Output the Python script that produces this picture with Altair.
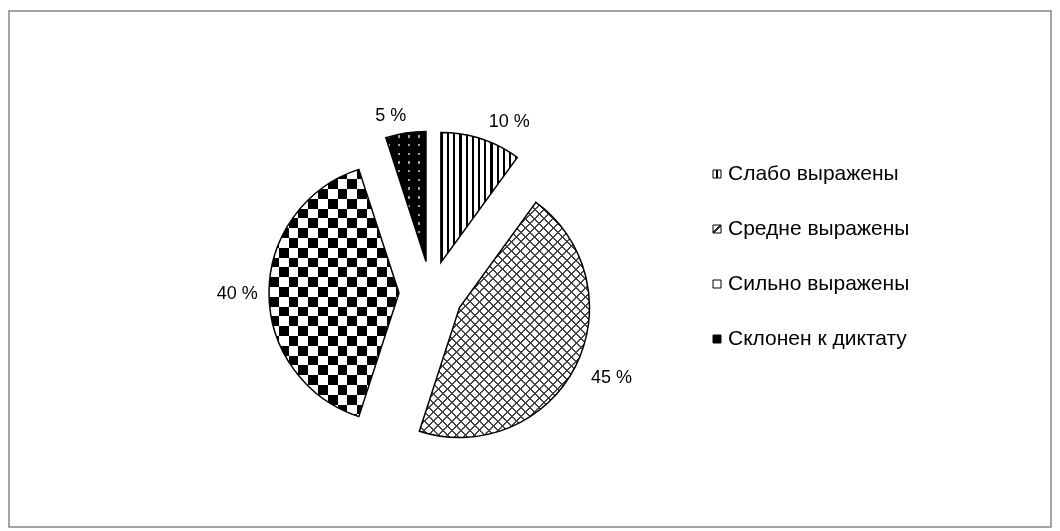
import altair as alt
import pandas as pd

# ---- data ----
categories = ["Слабо выражены", "Средне выражены", "Сильно выражены", "Склонен к диктату"]
values = [10, 45, 40, 5]
labels = ["10 %", "45 %", "40 %", "5 %"]

df = pd.DataFrame({"category": categories, "value": values, "label": labels,
                   "order": list(range(len(categories)))})

# ---- layout constants ----
CX, CY, R, D = 431, 293, 130, 32      # pie centre, radius, explode distance
RL = 176                              # label anchor radius
LX_SQ, LX_TXT, LY0, LDY = 717, 728, 174, 55
FONT = "Liberation Sans"
TRANSP = "rgba(0,0,0,0)"


def stripes(period, width, line, bg, phase=0.0):
    stops = [{"offset": 0.0, "color": bg}]
    t = phase
    while t < 1.0:
        a = max(t, 0.0)
        b = min(t + width, 1.0)
        if b > a:
            stops += [{"offset": round(a, 5), "color": bg},
                      {"offset": round(a, 5), "color": line},
                      {"offset": round(b, 5), "color": line},
                      {"offset": round(b, 5), "color": bg}]
        t += period
    stops.append({"offset": 1.0, "color": bg})
    return stops


def grad(stops, x1=0, y1=0, x2=1, y2=0):
    return {"gradient": "linear", "x1": x1, "y1": y1, "x2": x2, "y2": y2, "stops": stops}


base = (
    alt.Chart(df)
    .transform_window(cum="sum(value)", sort=[alt.SortField("order")], frame=[None, 0])
    .transform_joinaggregate(total="sum(value)")
    .transform_calculate(a1="datum.cum / datum.total * 2 * PI",
                         a0="(datum.cum - datum.value) / datum.total * 2 * PI")
    .transform_calculate(mid="(datum.a0 + datum.a1) / 2")
    .transform_calculate(
        cx=f"{CX} + {D} * sin(datum.mid)",
        cy=f"{CY} - {D} * cos(datum.mid)",
        sx="sin(datum.mid) > 0.1 ? 1 : (sin(datum.mid) < -0.1 ? -1 : 0)",
        sy="cos(datum.mid) > 0.1 ? 1 : (cos(datum.mid) < -0.1 ? -1 : 0)",
    )
    .transform_calculate(
        lx=f"{CX} + 3 + {RL} * sin(datum.mid) + datum.sx * length(datum.label) * 5.2",
        ly=f"{CY} + 1 - {RL} * cos(datum.mid) - datum.sy * 4.5",
        ky=f"{LY0} + datum.order * {LDY}",
    )
)


def arc(i, **kw):
    return base.transform_filter(f"datum.order == {i}").mark_arc(radius=R, **kw).encode(
        x=alt.X("cx:Q", scale=None, axis=None),
        y=alt.Y("cy:Q", scale=None, axis=None),
        theta=alt.Theta("a0:Q", scale=None, stack=None),
        theta2="a1:Q",
    )


layers = []

# 10 % : vertical stripes (bbox ~76 x 130)
layers.append(arc(0, fill=grad(stripes(6.2 / 76.4, 2.2 / 76.4, "#000000", "#ffffff", 0.0))))

# 45 % : cross-hatch (bbox ~170 x 235)
k = 235.2 / 170.2
tscale = 170.2 * (1 + k * k)
layers.append(arc(1, fill="#ffffff"))
layers.append(arc(1, fill=grad(stripes(9.2 / tscale, 2.0 / tscale, "#444444", TRANSP, 0.004),
                               0, 0, 1, k)))
layers.append(arc(1, fill=grad(stripes(9.2 / tscale, 2.0 / tscale, "#444444", TRANSP, 0.004),
                               0, 1, 1, 1 - k)))

# 40 % : checkerboard (bbox ~130 x 247)
cell = 9.8
layers.append(arc(2, fill=grad(stripes(2 * cell / 130, cell / 130, "#000000", "#ffffff", 0.0))))
layers.append(arc(2, fill=grad(stripes(2 * cell / 247.2, cell / 247.2, "#ffffff", TRANSP, 0.0),
                               0, 0, 0, 1), blend="difference"))

# 5 % : black with light dots (bbox ~40 x 130)
layers.append(arc(3, fill="#000000"))
layers.append(arc(3, fill=grad(stripes(10.0 / 40.2, 2.4 / 40.2, "#a0a0a0", TRANSP, 0.05))))
layers.append(arc(3, fill=grad(stripes(8.7 / 130, 2.4 / 130, TRANSP, "#000000", 0.03), 0, 0, 0, 1)))

# outlines
for i in range(4):
    layers.append(arc(i, fillOpacity=0, stroke="#000000", strokeWidth=1.5))

# percentage labels
layers.append(
    base.mark_text(font=FONT, fontSize=18, color="#000000", align="center", baseline="middle")
    .encode(x=alt.X("lx:Q", scale=None, axis=None), y=alt.Y("ly:Q", scale=None, axis=None),
            text="label:N")
)

# legend keys
key_fills = [
    grad([{"offset": 0, "color": "#fff"}, {"offset": 0.35, "color": "#fff"},
          {"offset": 0.35, "color": "#000"}, {"offset": 0.6, "color": "#000"},
          {"offset": 0.6, "color": "#fff"}, {"offset": 1, "color": "#fff"}]),
    grad([{"offset": 0, "color": "#fff"}, {"offset": 0.42, "color": "#fff"},
          {"offset": 0.42, "color": "#333"}, {"offset": 0.6, "color": "#333"},
          {"offset": 0.6, "color": "#fff"}, {"offset": 1, "color": "#fff"}], 0, 0, 1, 1),
    "#ffffff",
    "#000000",
]
for i, f in enumerate(key_fills):
    layers.append(
        base.transform_filter(f"datum.order == {i}")
        .mark_square(size=64, fill=f, stroke="#000000", strokeWidth=1, opacity=1)
        .encode(x=alt.value(LX_SQ), y=alt.Y("ky:Q", scale=None, axis=None))
    )

# legend text
layers.append(
    base.mark_text(font=FONT, fontSize=21, color="#000000", align="left", baseline="middle")
    .encode(x=alt.value(LX_TXT), y=alt.Y("ky:Q", scale=None, axis=None), text="category:N")
)

# chart frame
frame = alt.Chart(pd.DataFrame({"a": [0]})).mark_rect(
    fillOpacity=0, stroke="#888888", strokeWidth=1.5
).encode(x=alt.value(9), x2=alt.value(1051), y=alt.value(11), y2=alt.value(527))

chart = (
    alt.layer(frame, *layers)
    .properties(width=1060, height=531, padding=0, autosize="none", background="#ffffff")
    .configure_view(strokeWidth=0)
)

chart.save("out.html", embed_options={"renderer": "svg", "actions": False})
